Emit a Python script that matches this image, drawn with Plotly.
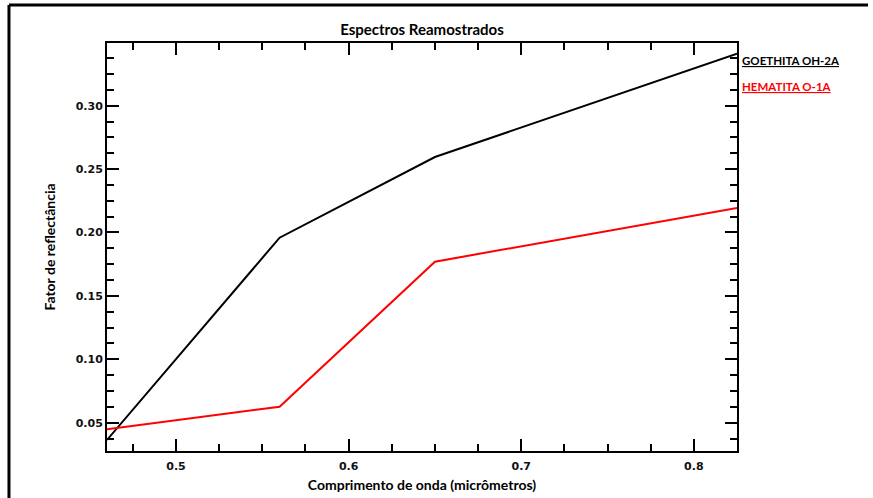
import plotly.graph_objects as go

wavelength = [0.46, 0.56, 0.65, 0.825]
goethita = [0.0364, 0.1959, 0.2595, 0.3410]
hematita = [0.0448, 0.0626, 0.1770, 0.2193]
series_names = ["GOETHITA OH-2A", "HEMATITA O-1A"]
series_colors = ["#000000", "#ff0000"]

FONT = "Lato"

x_minor = [round(0.45 + 0.025 * i, 4) for i in range(17)]
y_minor = [round(0.025 + 0.0125 * i, 5) for i in range(28)]

fig = go.Figure()
for name, vals, col in zip(series_names, [goethita, hematita], series_colors):
    fig.add_trace(go.Scatter(x=wavelength, y=vals, mode="lines", name=name,
                             line=dict(color=col, width=2), showlegend=False))

# legend-like labels
for i, (name, col) in enumerate(zip(series_names, series_colors)):
    fig.add_annotation(xref="paper", yref="paper", x=1.0048, y=[0.956, 0.8946][i],
                       xanchor="left", yanchor="middle", showarrow=False,
                       text=f"<b><u>{name}</u></b>",
                       font=dict(family=FONT, size=11.5, color=col))

axis_common = dict(showline=True, linecolor="black", linewidth=2, mirror="allticks",
                   ticks="inside", ticklen=12, tickwidth=2, tickcolor="black",
                   showgrid=False, zeroline=False, automargin=False,
                   tickfont=dict(family="DejaVu Sans", size=11, color="#111111", weight="bold"))

fig.update_xaxes(range=[0.46, 0.825], tickmode="array", tickvals=[0.5, 0.6, 0.7, 0.8],
                 ticktext=["0.5", "0.6", "0.7", "0.8"], ticklabelstandoff=4,
                 minor=dict(tickmode="array", tickvals=x_minor, ticks="inside", ticklen=7,
                            tickwidth=2, tickcolor="black", showgrid=False),
                 title=dict(text="<b>Comprimento de onda (micrômetros)</b>",
                            font=dict(family=FONT, size=14, color="black"), standoff=8),
                 **axis_common)
fig.update_yaxes(range=[0.0277, 0.3494], tickmode="array",
                 tickvals=[0.05, 0.10, 0.15, 0.20, 0.25, 0.30],
                 ticktext=["0.05", "0.10", "0.15", "0.20", "0.25", "0.30"],
                 minor=dict(tickmode="array", tickvals=y_minor, ticks="inside", ticklen=7,
                            tickwidth=2, tickcolor="black", showgrid=False),
                 title=dict(text="<b>Fator de reflectância</b>",
                            font=dict(family=FONT, size=14, color="black"), standoff=17),
                 **axis_common)

# outer frame (left and top edges)
fig.add_shape(type="line", xref="paper", yref="paper", x0=-0.1556, x1=-0.1556,
              y0=-0.2, y1=1.0931, line=dict(color="black", width=3))
fig.add_shape(type="line", xref="paper", yref="paper", x0=-0.1556, x1=1.208,
              y0=1.0931, y1=1.0931, line=dict(color="black", width=3))

fig.update_layout(
    width=873, height=498,
    margin=dict(l=107, r=136, t=43, b=47, autoexpand=False),
    paper_bgcolor="white", plot_bgcolor="white",
    title=dict(text="<b>Espectros Reamostrados</b>", x=(422/873), xanchor="center",
               y=1 - 30/498, yanchor="middle", automargin=False,
               font=dict(family=FONT, size=15, color="black")),
)

fig.write_html("out.html")
